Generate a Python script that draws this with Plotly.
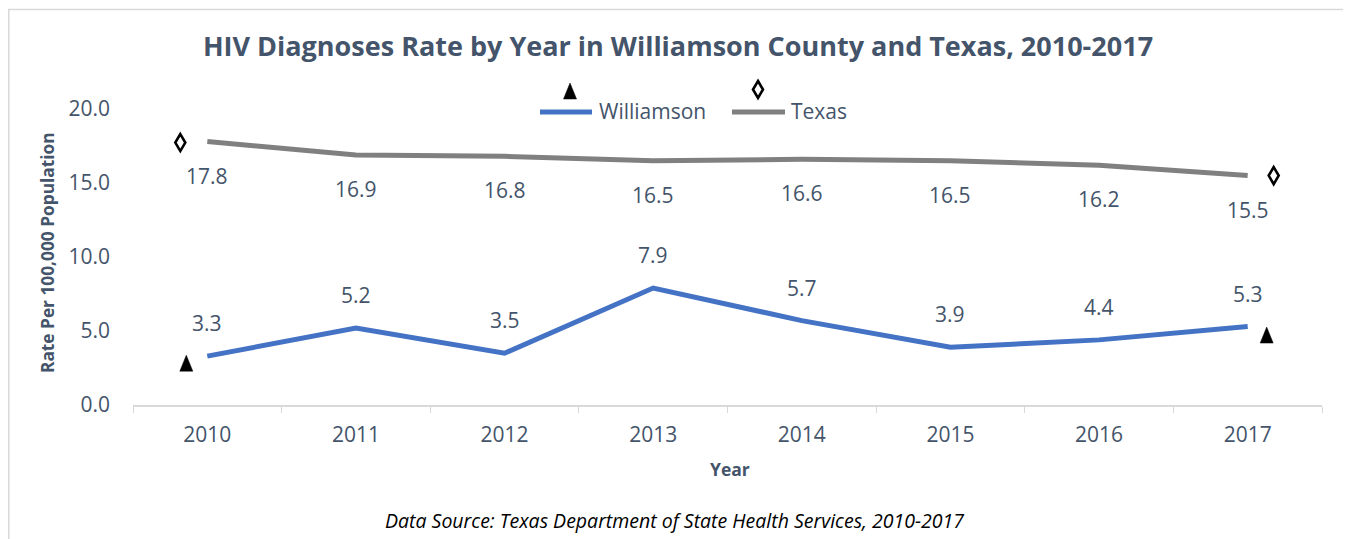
import plotly.graph_objects as go

years = ["2010", "2011", "2012", "2013", "2014", "2015", "2016", "2017"]
williamson = [3.3, 5.2, 3.5, 7.9, 5.7, 3.9, 4.4, 5.3]
texas = [17.8, 16.9, 16.8, 16.5, 16.6, 16.5, 16.2, 15.5]
y_ticks = [0, 5, 10, 15, 20]

TXT = "#44546A"
FONT = "Open Sans"
BLUE = "#4472C4"
GRAY = "#808080"

# plot area in reference pixels (page has an 8px body margin)
PX0, PX1, PY0, PY1 = 133, 1322, 109, 405
def px(x):
    return (x - PX0) / (PX1 - PX0)
def py(y):
    return (PY1 - y) / (PY1 - PY0)

fig = go.Figure()
fig.add_trace(go.Scatter(x=years, y=williamson, name="Williamson", mode="lines",
                         line=dict(color=BLUE, width=5), showlegend=False))
fig.add_trace(go.Scatter(x=years, y=texas, name="Texas", mode="lines",
                         line=dict(color=GRAY, width=5), showlegend=False))

ann = []
for i, v in enumerate(williamson):
    ann.append(dict(x=i, y=v, text=f"{v:.1f}", showarrow=False, yshift=33,
                    font=dict(size=21, color=TXT, family=FONT)))
for i, v in enumerate(texas):
    ann.append(dict(x=i, y=v, text=f"{v:.1f}", showarrow=False, yshift=-34,
                    font=dict(size=21, color=TXT, family=FONT)))

def triangle(xref, yref, xa, ya, dx, dy):
    # dx, dy: pixel offset of centre (dy positive = up)
    path = (f"M {dx-6.5},{dy-8} L {dx+6.5},{dy-8} L {dx},{dy+8} Z")
    return dict(type="path", xref=xref, yref=yref, xsizemode="pixel", ysizemode="pixel",
                xanchor=xa, yanchor=ya, path=path, fillcolor="black",
                line=dict(color="black", width=0.5))

def diamond(xref, yref, xa, ya, dx, dy):
    path = (f"M {dx},{dy+8.5} L {dx+5},{dy} L {dx},{dy-8.5} L {dx-5},{dy} Z")
    return dict(type="path", xref=xref, yref=yref, xsizemode="pixel", ysizemode="pixel",
                xanchor=xa, yanchor=ya, path=path, fillcolor="white",
                line=dict(color="black", width=2.6))

last = len(years) - 1
shapes = [dict(type="rect", xref="paper", yref="paper",
               x0=px(8.8), x1=px(1347), y0=py(560), y1=py(9.5),
               line=dict(color="#D9D9D9", width=1.5), layer="below")]
shapes.append(triangle("x", "y", 0, williamson[0], -21, -7))
shapes.append(triangle("x", "y", last, williamson[-1], 19, -8.5))
shapes.append(diamond("x", "y", 0, texas[0], -27, -1))
shapes.append(diamond("x", "y", last, texas[-1], 26, 0))

# custom legend
shapes.append(dict(type="line", xref="paper", yref="paper", x0=px(540), x1=px(592),
                   y0=py(112), y1=py(112), line=dict(color=BLUE, width=5)))
shapes.append(dict(type="line", xref="paper", yref="paper", x0=px(732), x1=px(785),
                   y0=py(112), y1=py(112), line=dict(color=GRAY, width=5)))
shapes.append(triangle("paper", "paper", px(570), py(91), 0, 0))
shapes.append(diamond("paper", "paper", px(758), py(89.5), 0, 0))
ann.append(dict(xref="paper", yref="paper", x=px(597), y=py(111), xanchor="left", yanchor="middle",
                text="Williamson", showarrow=False, font=dict(size=21, color=TXT, family=FONT)))
ann.append(dict(xref="paper", yref="paper", x=px(789), y=py(111), xanchor="left", yanchor="middle",
                text="Texas", showarrow=False, font=dict(size=21, color=TXT, family=FONT)))

# axis titles and source
ann.append(dict(xref="paper", yref="paper", x=px(730), y=py(469), xanchor="center", yanchor="middle",
                text="<b>Year</b>",
                showarrow=False, font=dict(size=17.5, color=TXT, family=FONT)))
ann.append(dict(xref="paper", yref="paper", x=px(47), y=py(253), xanchor="center", yanchor="middle",
                text="<b>Rate Per 100,000 Population</b>", textangle=-90,
                showarrow=False, font=dict(size=17.3, color=TXT, family=FONT)))
ann.append(dict(xref="paper", yref="paper", x=px(674), y=py(520), xanchor="center", yanchor="middle",
                text="<i>Data Source: Texas Department of State Health Services, 2010-2017</i>",
                showarrow=False, font=dict(size=19.5, color="black", family=FONT)))

W, H = 1343, 531
fig.update_layout(
    width=W, height=H,
    margin=dict(l=PX0 - 8, r=W - (PX1 - 8), t=PY0 - 8, b=H - (PY1 - 8)),
    paper_bgcolor="white", plot_bgcolor="white",
    title=dict(text="<b>HIV Diagnoses Rate by Year in Williamson County and Texas, 2010-2017</b>",
               x=(678 - 8) / W, xanchor="center", y=1 - (47 - 8) / H, yanchor="middle",
               font=dict(size=27, color=TXT, family=FONT)),
    showlegend=False,
    annotations=ann,
    shapes=shapes,
)
fig.update_xaxes(type="category", range=[-0.5, len(years) - 0.5], tickson="boundaries",
                 ticks="outside", ticklen=6, tickangle=0, ticklabelstandoff=10,
                 tickcolor="#D9D9D9", showline=True, linecolor="#D9D9D9", linewidth=1.5,
                 showgrid=False, tickfont=dict(size=21, color=TXT, family=FONT))
fig.update_yaxes(range=[0, 20], tickvals=y_ticks, tickformat=".1f", showgrid=False,
                 zeroline=False, showline=False, ticklabelstandoff=22,
                 tickfont=dict(size=21, color=TXT, family=FONT))

fig.write_html("out.html")
